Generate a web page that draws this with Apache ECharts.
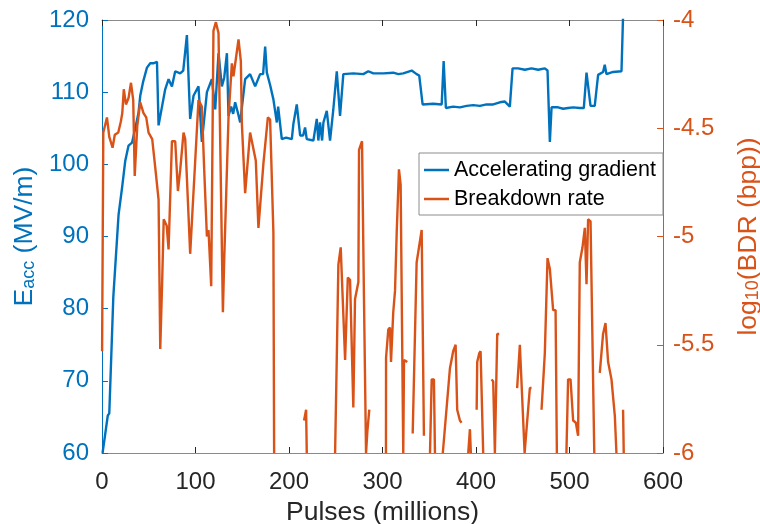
<!DOCTYPE html>
<html><head><meta charset="utf-8">
<script src="https://cdn.jsdelivr.net/npm/echarts@6/dist/echarts.min.js"></script>
<style>html,body{margin:0;padding:0;background:#fff}#c{width:760px;height:524px}</style>
</head><body><div id="c"></div>
<script>
const seriesNames = ['Accelerating gradient', 'Breakdown rate'];
const xTitle = 'Pulses (millions)';
const xRange = [0, 600, 100];
const leftRange = [60, 120, 10];
const rightRange = [-6, -4, 0.5];

// Accelerating gradient (MV/m) vs pulses (millions)
const eaccX = [0.6,1.9,6.2,7.8,12.1,17.7,21.7,24.9,28.4,32.1,35.6,39.1,40.9,44.1,48.1,51.6,54.8,58.8,60.5,67.6,71.2,74.8,78.3,83.6,86.9,89,90.8,94.3,97.9,103.2,106.8,112.2,117.5,121.1,124.6,128.2,130.7,133.6,135.3,138.1,140.3,142.4,145.6,147.8,153.1,158.4,163.8,169.1,172.3,174.5,176.3,179.8,183.3,187,188.4,192.3,196.9,203,204.7,208.3,211.9,215.1,217.2,219,226.1,229.7,231.4,233.2,235.4,236.8,240.4,243.9,247.4,251.1,252.5,254.6,258.1,268.8,279.5,284.8,290.2,300.9,311.5,316.9,322.2,331.2,336.5,339.3,342.9,354.3,363.3,365.4,367.8,375.6,382.8,390,397,404.2,411.3,418.4,425.5,430.9,436.2,439.1,445.1,452.2,459.4,466.5,473.6,476.5,479,480.8,487.8,493.2,498.5,503.9,511,515.3,518.2,522.5,527,530.6,535.9,537.7,539.5,546.6,555.6,557.6];
const eaccY = [60,60.2,65.2,65.5,81.6,93,97,100.5,102.6,103,105,107.2,109.5,111.5,113.4,114,114,114.2,105.4,110.4,111.8,110.8,112.9,112.6,113,113.2,117.9,106.3,109.5,110.8,103.1,110,111.8,107.6,115.4,110.8,112,115.4,106.7,108,107,108.6,107,105.8,111.8,112.5,110.8,112.5,112.5,116.3,112.7,111,109,105.8,108,103.5,103.7,103.5,105.6,108.3,104,104,105.1,103.5,103.3,106.3,103.3,105.8,103.3,105.8,107.4,103.3,107.6,112.9,112.8,106.7,112.5,112.6,112.5,112.9,112.6,112.6,112.7,112.5,112.6,113,112.5,112.3,108.3,108.4,108.3,114.3,107.8,108,107.9,108.1,108.2,108.1,108.3,108.3,108.6,108.7,108,113.3,113.3,113.1,113.3,113.1,113.3,113,103.1,107.9,107.9,107.7,107.8,107.9,107.8,107.8,112.7,108.1,108.1,112.4,112.8,113.8,112.5,112.8,112.9,122];

// log10(BDR) vs pulses; null marks a gap in the curve
const bdrX = [0.1,1.4,5.3,7.8,11.3,13.7,17.4,20.1,21.7,23.3,25.6,28.4,31,33.4,35,37.7,40.9,44.4,47.3,49.8,53.7,56.9,60.5,62.3,64.4,66,69.2,71.2,74.8,78.3,81.2,83.7,87.2,89,94.3,96.8,99.7,103.2,106.8,109.3,112.2,113.9,116.8,119.2,121.8,124.6,129.3,130.7,135.3,138.9,140.6,146,148.5,149.6,153.1,158.4,164.5,167.3,172.7,177.4,179.8,183.3,184.1,
  200,
  216.1,218.3,219,
  234,
  249.3,251.1,252.8,255.3,260,262.9,265.3,268.8,270.6,274.2,274.9,278.1,280.2,282.4,283.8,285.9,
  295,
  303.7,303.8,306.2,308,309.1,311.5,313.4,315.2,317.6,319.4,322.2,323,325.1,326.5,
  329,
  332.3,336.5,341.9,344.3,
  347,
  350.8,352.6,355,356.1,
  360,
  364.5,372.1,375.6,378.2,379.9,382.8,384.6,
  388,
  391.7,393.5,394.5,
  397,
  400.7,401.3,403.4,404.9,407.7,
  412,
  416.7,418.4,420.2,422.7,424.8,
  435,
  444,446.9,452,457.6,459.4,
  465,
  470.1,473.6,476.5,479,482.5,485.1,486.5,
  492,
  496.7,498.5,501.1,503.9,506.8,509.2,511,513.9,516.4,518.2,519.9,522.5,526.5,
  529,
  532.4,535.9,538.5,541.3,544.9,548.5,550.2,
  554,
  557.3,558];
const bdrY = [-5.53,-4.52,-4.45,-4.54,-4.59,-4.53,-4.52,-4.47,-4.43,-4.32,-4.39,-4.36,-4.29,-4.37,-4.72,-4.49,-4.38,-4.43,-4.45,-4.52,-4.55,-4.68,-4.83,-5.52,-5.2,-4.92,-4.95,-5.06,-4.56,-4.56,-4.79,-4.69,-4.52,-4.55,-5.08,-4.88,-4.65,-4.37,-4.4,-4.69,-5.0,-4.97,-5.23,-4.05,-4.01,-4.06,-5.35,-5.11,-4.45,-4.2,-4.26,-4.09,-4.19,-4.48,-4.8,-4.52,-4.65,-4.96,-4.66,-4.45,-4.46,-4.98,-6,
  null,
  -5.85,-5.8,-6,
  null,
  -6,-5.56,-5.13,-5.05,-5.57,-5.19,-5.2,-5.79,-5.29,-5.21,-4.6,-4.56,-5.29,-6,-5.9,-5.8,
  null,
  -6,-5.56,-5.43,-5.42,-5.58,-5.35,-5.25,-4.98,-4.69,-4.76,-6,-5.57,-5.57,-5.58,
  null,
  -5.91,-5.12,-4.97,-5.92,
  null,
  -6,-5.66,-5.66,-6,
  null,
  -6,-5.61,-5.53,-5.5,-5.8,-5.85,-5.86,
  null,
  -6,-5.89,-6,
  null,
  -5.8,-5.58,-5.54,-5.53,-6,
  null,
  -5.66,-5.67,-6,-5.45,-5.45,
  null,
  -5.7,-5.5,-6,-5.7,-5.7,
  null,
  -5.8,-5.54,-5.1,-5.15,-5.34,-5.34,-6,
  null,
  -6,-5.66,-5.66,-5.85,-5.86,-5.92,-5.12,-5.05,-4.96,-5.22,-4.92,-4.93,-6,
  null,
  -5.63,-5.45,-5.4,-5.58,-5.66,-5.83,-6,
  null,
  -5.8,-6];

const BLUE = '#0072BD', ORANGE = '#D95319', DARK = '#262626';
const FONT = '"Liberation Sans", Arial, Helvetica, sans-serif';

const eaccData = eaccX.map((x, i) => [x, eaccY[i]]);
const bdrData = bdrX.map((x, i) => [x, bdrY[i] === null ? '-' : bdrY[i]]);

function titleRich(color) {
  return {
    m: {fontSize: 26.5, color: color, fontFamily: FONT, lineHeight: 27, verticalAlign: 'top'},
    s: {fontSize: 18, color: color, fontFamily: FONT, lineHeight: 18, padding: [19, 0, 0, 0], verticalAlign: 'bottom'}
  };
}

const chart = echarts.init(document.getElementById('c'), null, {renderer: 'canvas'});
chart.setOption({
  animation: false,
  backgroundColor: '#fff',
  textStyle: {fontFamily: FONT},
  grid: {left: 102, top: 20, right: 97, bottom: 71, containLabel: false, outerBoundsMode: 'none'},
  legend: {
    data: seriesNames,
    orient: 'vertical',
    left: 419, top: 153,
    padding: [6, 7, 5, 5],
    itemGap: 7,
    icon: 'rect',
    itemWidth: 25, itemHeight: 2.5,
    backgroundColor: '#fff',
    borderColor: '#8c8c8c', borderWidth: 1, borderRadius: 0,
    textStyle: {fontSize: 21.5, color: '#000', fontFamily: FONT}
  },
  xAxis: [{
    type: 'value', min: xRange[0], max: xRange[1], interval: xRange[2], position: 'bottom',
    axisLine: {show: true, onZero: false, lineStyle: {color: '#8a8a8a', width: 1}},
    axisTick: {show: true, inside: true, length: 6, lineStyle: {color: DARK}},
    axisLabel: {color: DARK, fontSize: 24, margin: 17, fontFamily: FONT},
    splitLine: {show: false},
    name: xTitle, nameLocation: 'middle', nameGap: 45,
    nameTextStyle: {color: DARK, fontSize: 26.5, fontFamily: FONT}
  }, {
    type: 'value', min: xRange[0], max: xRange[1], interval: xRange[2], position: 'top',
    axisLine: {show: true, onZero: false, lineStyle: {color: '#8a8a8a', width: 1}},
    axisTick: {show: true, inside: true, length: 6, lineStyle: {color: DARK}},
    axisLabel: {show: false}, splitLine: {show: false}
  }],
  yAxis: [{
    type: 'value', min: leftRange[0], max: leftRange[1], interval: leftRange[2], position: 'left',
    axisLine: {show: true, onZero: false, lineStyle: {color: BLUE, width: 1}},
    axisTick: {show: true, inside: true, length: 6, lineStyle: {color: BLUE}},
    axisLabel: {color: BLUE, fontSize: 24, margin: 13, fontFamily: FONT},
    splitLine: {show: false},
    name: '{m|E}{s|acc}{m| (MV/m)}', nameLocation: 'middle', nameRotate: 90, nameGap: 55,
    nameTextStyle: {color: BLUE, rich: titleRich(BLUE)}
  }, {
    type: 'value', min: rightRange[0], max: rightRange[1], interval: rightRange[2], position: 'right',
    axisLine: {show: true, onZero: false, lineStyle: {color: ORANGE, width: 1}},
    axisTick: {show: true, inside: true, length: 6, lineStyle: {color: ORANGE}},
    axisLabel: {color: ORANGE, fontSize: 24, margin: 10, fontFamily: FONT},
    splitLine: {show: false},
    name: '{m|log}{s|10}{m|(BDR (bpp))}', nameLocation: 'middle', nameRotate: 90, nameGap: 58,
    nameTextStyle: {color: ORANGE, rich: titleRich(ORANGE)}
  }],
  series: [{
    name: seriesNames[0], type: 'line', xAxisIndex: 0, yAxisIndex: 0,
    data: eaccData, showSymbol: false, symbol: 'none', clip: true,
    lineStyle: {color: BLUE, width: 2.4}, itemStyle: {color: BLUE}, z: 2
  }, {
    name: seriesNames[1], type: 'line', xAxisIndex: 0, yAxisIndex: 1,
    data: bdrData, showSymbol: false, symbol: 'none', clip: true, connectNulls: false,
    lineStyle: {color: ORANGE, width: 2.4}, itemStyle: {color: ORANGE}, z: 3
  }]
});
</script></body></html>
